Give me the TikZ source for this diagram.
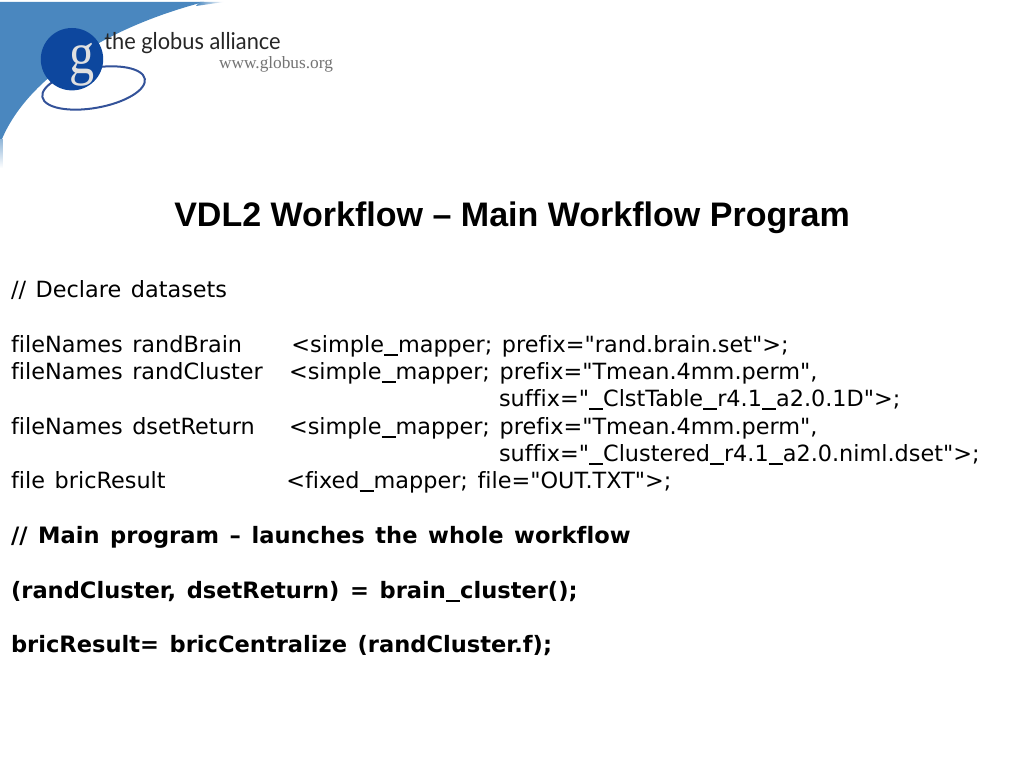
\documentclass[tikz,border=0pt]{standalone}
\usepackage{fontspec}
\newfontfamily\codefont{DejaVu Sans}[Ligatures=NoCommon, WordSpace=1.35]
\newfontfamily\titlefont{Liberation Sans}
\newfontfamily\logofont{Lato}
\newfontfamily\urlfont{Liberation Serif}
\usetikzlibrary{positioning}
\usetikzlibrary{fadings}
\definecolor{swoosh}{rgb}{0.29, 0.53, 0.75}
\definecolor{gblue}{rgb}{0.05, 0.28, 0.62}
\definecolor{gring}{rgb}{0.2, 0.32, 0.6}
\newcommand{\usc}{\rule[-0.13em]{0.63em}{0.07em}}
\tikzset{code/.style = {anchor=base west, inner sep=0, font=\codefont\fontsize{15.9}{19}\selectfont}}
\tikzset{boldcode/.style = {code, font=\codefont\fontsize{16.05}{19}\selectfont\bfseries}}
\tikzset{ring/.style = {draw=gring, line width=0.05cm}}
\begin{document}
\begin{tikzpicture}
  \useasboundingbox (0, 0) rectangle (25.6, 19.2);
  % logo
  \fill [swoosh] (0, 19.15) -- (5.1, 19.15) .. controls (2.6, 18.5) and (0.6, 17.2) .. (0, 15.6) -- cycle;
  \shade [top color=swoosh!60!white, bottom color=white] (0, 15.0) rectangle (0.07, 15.7);
  \shade [left color=swoosh, right color=white] (5.0, 19.15) -- (5.6, 19.15) -- (4.9, 19.05) -- cycle;
  \draw [ring, rotate around={10:(2.34, 17.0)}] (2.34, 17.0) ellipse (1.3 and 0.5);
  \node (gdisc) [circle, fill=gblue, minimum size=1.56cm, inner sep=0] at (1.8, 17.72) {};
  \node (gletter) [black!12, xscale=0.85, font=\urlfont\fontsize{42}{42}\selectfont] at (2.04, 17.58) {g};
  \node (logoname) [anchor=base west, inner sep=0, black!85, xscale=0.94, font=\logofont\fontsize{16.5}{18}\selectfont] at (2.6, 17.96) {the globus alliance};
  \node (logourl) [anchor=base west, inner sep=0, black!55, font=\urlfont\fontsize{12.3}{14}\selectfont] at (5.47, 17.49) {www.globus.org};

  % title
  \node (title) [inner sep=0, anchor=base, font=\titlefont\fontsize{24.2}{28}\selectfont\bfseries] at (12.8, 13.53) {VDL2 Workflow – Main Workflow Program};

  % declarations
  \node (declare) [code] at (0.27, 11.75) {// Declare datasets};
  \node (randbrain) [code] at (0.27, 10.38) {fileNames randBrain};
  \node (randbrainmap) [code] at (7.28, 10.38) {<simple\usc mapper; prefix="rand.brain.set">;};
  \node (randcluster) [code] at (0.27, 9.7) {fileNames randCluster};
  \node (randclustermap) [code] at (7.22, 9.7) {<simple\usc mapper; prefix="Tmean.4mm.perm",};
  \node (randclustersuf) [code] at (12.47, 9.025) {suffix="\usc ClstTable\usc r4.1\usc a2.0.1D">;};
  \node (dsetreturn) [code] at (0.27, 8.33) {fileNames dsetReturn};
  \node (dsetreturnmap) [code] at (7.22, 8.33) {<simple\usc mapper; prefix="Tmean.4mm.perm",};
  \node (dsetreturnsuf) [code] at (12.47, 7.65) {suffix="\usc Clustered\usc r4.1\usc a2.0.niml.dset">;};
  \node (bricresult) [code] at (0.27, 6.975) {file bricResult};
  \node (bricresultmap) [code] at (7.15, 6.975) {<fixed\usc mapper; file="OUT.TXT">;};

  % main program
  \node (maincomment) [boldcode] at (0.27, 5.6) {// Main program – launches the whole workflow};
  \node (maincall) [boldcode] at (0.27, 4.23) {(randCluster, dsetReturn) = brain\usc cluster();};
  \node (bricall) [boldcode] at (0.27, 2.88) {bricResult= bricCentralize (randCluster.f);};
\end{tikzpicture}
\end{document}
